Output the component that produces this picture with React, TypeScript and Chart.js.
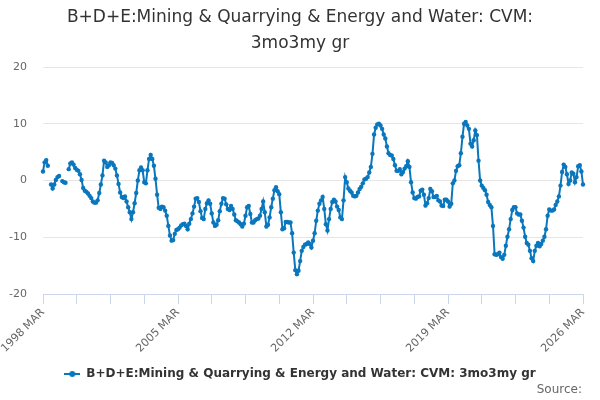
import React, { useEffect, useRef } from 'react';
import { Chart, registerables } from 'chart.js';

Chart.register(...registerables);

const MONTH_NAMES = ['JAN', 'FEB', 'MAR', 'APR', 'MAY', 'JUN', 'JUL', 'AUG', 'SEP', 'OCT', 'NOV', 'DEC'];
const FIRST_YEAR = 1998;
const FIRST_MONTH = 2; // MAR

const values: (number | null)[] = [
  1.6, 3.2, 3.6, 2.6, null, -0.7, -1.4, -0.7, 0.1, 0.6,
  0.8, null, -0.1, -0.3, -0.4, null, 2.0, 3.0, 3.2, 2.8,
  2.2, 1.9, 1.7, 1.1, 0.1, -1.3, -1.8, -2.0, -2.3, -2.7,
  -3.1, -3.7, -3.9, -3.9, -3.5, -2.2, -0.7, 0.9, 3.5, 3.2,
  2.4, 2.7, 3.2, 3.1, 2.7, 2.1, 0.9, -0.6, -2.1, -2.9,
  -3.1, -2.8, -3.7, -4.7, -5.6, -6.8, -5.6, -4.0, -2.2, 0.0,
  1.8, 2.3, 1.8, -0.3, -0.5, 1.8, 3.8, 4.5, 3.8, 2.6,
  0.3, -2.5, -4.8, -5.0, -4.6, -4.7, -5.3, -6.2, -8.0, -9.7,
  -10.6, -10.5, -9.4, -8.7, -8.6, -8.3, -7.9, -7.7, -7.6, -8.0,
  -8.6, -7.6, -6.8, -5.8, -4.6, -3.2, -3.1, -3.8, -5.4, -6.6,
  -6.8, -5.0, -4.0, -3.5, -4.1, -5.8, -7.4, -8.0, -7.8, -7.0,
  -5.4, -4.1, -3.1, -3.2, -4.2, -5.0, -5.2, -4.5, -5.0, -6.0,
  -7.0, -7.2, -7.4, -7.7, -8.1, -7.6, -6.2, -4.7, -4.5, -5.9,
  -7.4, -7.4, -7.0, -6.8, -6.7, -6.2, -5.0, -3.7, -5.6, -8.1,
  -7.8, -6.5, -4.7, -3.2, -1.7, -1.2, -1.9, -2.4, -5.6, -8.6,
  -8.4, -7.3, -7.3, -7.4, -7.4, -9.3, -12.7, -15.8, -16.5, -15.9,
  -14.2, -12.4, -11.7, -11.3, -11.2, -10.9, -11.2, -11.8, -10.6, -9.3,
  -7.1, -5.3, -4.1, -3.5, -2.9, -5.0, -7.7, -8.8, -6.8, -5.0,
  -3.8, -3.4, -3.7, -4.6, -5.2, -6.5, -6.8, -3.5, 0.6, -0.3,
  -1.4, -1.8, -2.1, -2.7, -2.8, -2.7, -2.1, -1.5, -1.1, -0.5,
  0.2, 0.3, 0.6, 1.4, 2.4, 4.7, 8.1, 9.3, 9.9, 10.0,
  9.7, 9.1, 8.1, 7.4, 6.0, 4.8, 4.5, 4.4, 3.8, 2.7,
  1.7, 1.7, 2.0, 1.1, 1.5, 2.1, 2.5, 3.4, 2.4, -0.3,
  -2.1, -3.1, -3.2, -2.9, -2.8, -1.8, -1.6, -2.5, -4.4, -4.0,
  -3.1, -1.5, -1.9, -2.9, -2.9, -2.7, -3.5, -3.7, -4.4, -4.5,
  -3.4, -3.4, -3.7, -4.6, -4.1, -0.5, 0.0, 1.7, 2.5, 2.7,
  4.8, 7.7, 10.0, 10.3, 9.7, 9.1, 6.5, 6.0, 7.1, 8.8,
  8.0, 3.5, 0.0, -0.9, -1.3, -1.7, -2.5, -3.8, -4.3, -4.7,
  -8.0, -13.0, -13.1, -13.0, -12.7, -13.5, -13.8, -13.1, -11.5, -9.9,
  -8.6, -6.8, -5.2, -4.7, -4.7, -5.8, -6.0, -6.0, -7.1, -8.3,
  -9.9, -11.0, -11.3, -12.4, -13.7, -14.2, -12.4, -11.5, -11.0, -11.6,
  -11.2, -10.6, -9.9, -8.6, -6.2, -5.1, -5.3, -5.3, -5.1, -4.3,
  -3.7, -2.8, -0.9, 1.5, 2.8, 2.4, 1.1, -0.6, 0.0, 1.4,
  1.2, -0.3, 0.6, 2.5, 2.7, 1.6, -0.7,
];

const categories: string[] = values.map((_, i) => {
  const m = FIRST_MONTH + i;
  return `${FIRST_YEAR + Math.floor(m / 12)} ${MONTH_NAMES[m % 12]}`;
});

const TITLE_LINES = ['B+D+E:Mining & Quarrying & Energy and Water: CVM:', '3mo3my gr'];
const SERIES_NAME = 'B+D+E:Mining & Quarrying & Energy and Water: CVM: 3mo3my gr';
const SOURCE_TEXT = 'Source:';
const Y_MIN = -20;
const Y_MAX = 20;
const Y_STEP = 10;
const TICK_STEP = 21;
const LABEL_STEP = 84;

const FONT = '"DejaVu Sans", Verdana, sans-serif';
const LINE_COLOR = '#0a77bd';

export default function App() {
  const ref = useRef<HTMLCanvasElement | null>(null);

  useEffect(() => {
    if (!ref.current) return;
    const sym = document.createElement('canvas');
    sym.width = 16;
    sym.height = 8;
    const sc = sym.getContext('2d');
    if (sc) {
      sc.strokeStyle = LINE_COLOR;
      sc.lineWidth = 2;
      sc.beginPath();
      sc.moveTo(0, 4);
      sc.lineTo(16, 4);
      sc.stroke();
      sc.fillStyle = LINE_COLOR;
      sc.beginPath();
      sc.arc(8, 4, 3, 0, Math.PI * 2);
      sc.fill();
    }

    const sourcePlugin = {
      id: 'sourceText',
      afterDraw(chart: any) {
        const ctx = chart.ctx;
        ctx.save();
        ctx.font = `12px ${FONT}`;
        ctx.fillStyle = '#666666';
        ctx.textAlign = 'right';
        ctx.textBaseline = 'middle';
        ctx.fillText(SOURCE_TEXT, 582, 390);
        ctx.restore();
      },
    };

    const chart = new Chart(ref.current, {
      type: 'line',
      data: {
        labels: categories,
        datasets: [
          {
            label: SERIES_NAME,
            data: values,
            borderColor: LINE_COLOR,
            backgroundColor: LINE_COLOR,
            borderWidth: 2,
            pointRadius: 2.2,
            pointBorderWidth: 0,
            pointBackgroundColor: LINE_COLOR,
            pointHoverRadius: 3,
            tension: 0,
            spanGaps: false,
          },
        ],
      },
      options: {
        responsive: false,
        animation: false,
        layout: { padding: { left: 0, right: 0, top: 0, bottom: 10 } },
        scales: {
          x: {
            type: 'category',
            offset: false,
            afterFit: (scale: any) => {
              scale.height = 64;
            },
            grid: {
              drawOnChartArea: false,
              drawTicks: true,
              tickLength: 10,
              color: (ctx: any) => (ctx.index % TICK_STEP === 0 ? '#ccd6eb' : 'rgba(0,0,0,0)'),
            },
            border: { display: true, color: '#ccd6eb', width: 1 },
            ticks: {
              autoSkip: false,
              maxRotation: 45,
              minRotation: 45,
              padding: 2,
              color: '#666666',
              font: { family: FONT, size: 11 },
              callback: (_v: any, i: number) => (i % LABEL_STEP === 0 ? categories[i] : ''),
            },
          },
          y: {
            min: Y_MIN,
            max: Y_MAX,
            afterFit: (scale: any) => {
              scale.width = 43;
            },
            grid: { color: '#e6e6e6', drawTicks: false },
            border: { display: false },
            ticks: {
              stepSize: Y_STEP,
              padding: 16,
              color: '#666666',
              font: { family: FONT, size: 11 },
            },
          },
          rightSpacer: {
            type: 'linear',
            position: 'right',
            display: true,
            afterFit: (scale: any) => {
              scale.width = 17;
            },
            grid: { display: false, drawTicks: false },
            border: { display: false },
            ticks: { display: false },
          },
        },
        plugins: {
          title: {
            display: true,
            text: TITLE_LINES,
            color: '#333333',
            font: { family: FONT, size: 17, weight: 'normal', lineHeight: 1.53 },
            padding: { top: 5, bottom: 10 },
          },
          legend: {
            display: true,
            position: 'bottom',
            labels: {
              usePointStyle: true,
              pointStyle: sym as any,
              pointStyleWidth: 16,
              boxHeight: 12,
              padding: 10,
              color: '#333333',
              font: { family: FONT, size: 12, weight: 'bold' },
            },
          },
          tooltip: { enabled: false },
        },
      },
      plugins: [sourcePlugin],
    } as any);

    return () => chart.destroy();
  }, []);

  return (
    <div style={{ position: 'fixed', left: 0, top: 0, width: 600, height: 400, background: '#ffffff' }}>
      <canvas ref={ref} width={600} height={400} />
    </div>
  );
}
